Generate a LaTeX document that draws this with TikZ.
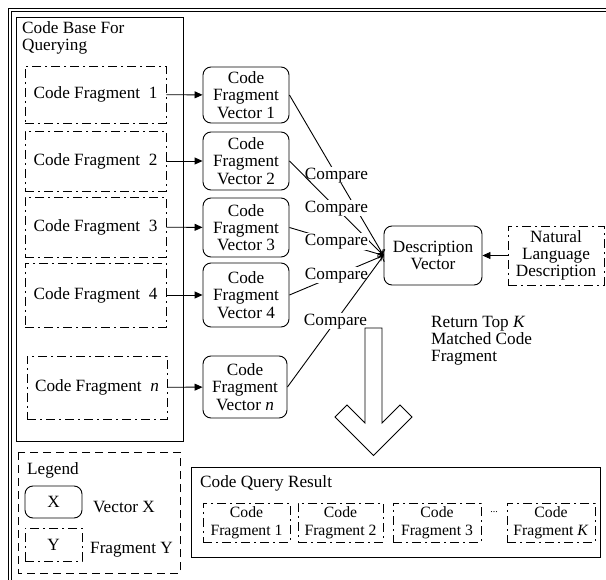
\documentclass[tikz,border=0pt]{standalone}
\usepackage{fontspec}
\setmainfont{Liberation Serif}
\usetikzlibrary{arrows.meta}
\begin{document}
\begin{tikzpicture}[x=1pt,y=-1pt,
  every node/.style={font=\fontsize{17.2}{17.2}\selectfont, inner sep=1pt},
  lw/.style={line width=0.9pt},
  fragbox/.style={draw, line width=0.9pt, dash pattern=on 9pt off 4pt on 2pt off 4pt, align=center},
  vecbox/.style={draw, line width=0.9pt, rounded corners=8pt, align=center},
  resbox/.style={fragbox, font=\fontsize{15.7}{18.5}\selectfont},
  feed/.style={line width=0.9pt, -{Triangle[length=8pt,width=7pt]}},
  cmp/.style={line width=0.9pt, -{To[length=5pt,width=9pt]}},
  cmplabel/.style={pos=0.5, fill=white, inner sep=0.5pt},
  plain/.style={inner sep=1pt}
]
\useasboundingbox (0,0) rectangle (606,580);
\fill[white] (0,0) rectangle (606,580);

% outer frame
\draw[double, double distance=1.6pt, line width=0.8pt] (10,10) rectangle (660,660);

% code base
\node[draw, lw, minimum width=167pt, minimum height=424pt] (cb) at (99.5,229) {};
\node[plain, anchor=north west, align=left] (cbt) at (21,20.2) {Code Base For\\Querying};

\node[fragbox, minimum width=141pt, minimum height=57pt] (f1) at (95.5,94.5) {Code Fragment\ \ 1};
\node[fragbox, minimum width=141pt, minimum height=60pt] (f2) at (95.5,161) {Code Fragment\ \ 2};
\node[fragbox, minimum width=141pt, minimum height=60pt] (f3) at (95.5,227) {Code Fragment\ \ 3};
\node[fragbox, minimum width=141pt, minimum height=64pt] (f4) at (95.5,295) {Code Fragment\ \ 4};
\node[fragbox, minimum width=140pt, minimum height=63pt] (fn) at (97,387.5) {Code Fragment\ \ \textit{n}};

% vectors
\node[vecbox, minimum width=86pt, minimum height=56pt] (v1) at (246,95) {Code\\Fragment\\Vector 1};
\node[vecbox, minimum width=86pt, minimum height=58pt] (v2) at (246,161) {Code\\Fragment\\Vector 2};
\node[vecbox, minimum width=86pt, minimum height=59pt] (v3) at (246,227.5) {Code\\Fragment\\Vector 3};
\node[vecbox, minimum width=86pt, minimum height=64pt] (v4) at (246,295) {Code\\Fragment\\Vector 4};
\node[vecbox, minimum width=84pt, minimum height=62pt] (vn) at (245,387) {Code\\Fragment\\Vector \textit{n}};

\draw[feed] (f1) -- (v1);
\draw[feed] (f2) -- (v2);
\draw[feed] (f3) -- (v3);
\draw[feed] (f4) -- (v4);
\draw[feed] (fn) -- (vn);

% description
\node[vecbox, minimum width=98pt, minimum height=59pt] (dv) at (433,255.5) {Description\\Vector};
\node[fragbox, minimum width=96pt, minimum height=59pt] (nld) at (556,255.5) {Natural\\Language\\Description};
\draw[feed] (nld) -- (dv);

\draw[cmp] (v1.east) -- node[cmplabel] {Compare} (dv.west);
\draw[cmp] (v2.east) -- node[cmplabel] {Compare} (dv.west);
\draw[cmp] (v3.east) -- node[cmplabel] {Compare} (dv.west);
\draw[cmp] (v4.east) -- node[cmplabel] {Compare} (dv.west);
\draw[cmp] (vn.east) -- node[cmplabel] {Compare} (dv.west);

% return text
\node[plain, anchor=north west, align=left] (ret) at (430,315) {Return Top \textit{K}\\Matched Code\\Fragment};

% big hollow arrow
\draw[lw, line join=miter] (365,328) -- (382,328) -- (382,423) -- (400,405) -- (412,417)
  -- (373.5,455.5) -- (335,417) -- (347,405) -- (365,423) -- cycle;

% legend
\draw[lw, dash pattern=on 8pt off 5pt] (18,452) rectangle (180,573);
\node[plain, anchor=base west] (lg) at (26,475) {Legend};
\node[vecbox, minimum width=57pt, minimum height=32pt] (lx) at (53.5,502) {X};
\node[plain, anchor=base west] (lxt) at (92,512) {Vector X};
\node[fragbox, minimum width=57pt, minimum height=33pt] (ly) at (53.5,544.5) {Y};
\node[plain, anchor=base west] (lyt) at (89,553) {Fragment Y};

% result
\node[draw, lw, minimum width=409pt, minimum height=90pt] (res) at (395.5,512) {};
\node[plain, anchor=base west] (rest) at (199,487) {Code Query Result};
\node[resbox, minimum width=87pt, minimum height=39pt] (r1) at (246.5,522.5) {Code\\Fragment 1};
\node[resbox, minimum width=85pt, minimum height=39pt] (r2) at (340.5,522.5) {Code\\Fragment 2};
\node[resbox, minimum width=88pt, minimum height=39pt] (r3) at (437,522.5) {Code\\Fragment 3};
\node[plain, font=\fontsize{10}{12}\selectfont] (rdots) at (494,512) {...};
\node[resbox, minimum width=88pt, minimum height=39pt] (rk) at (551,522.5) {Code\\Fragment \textit{K}};
\end{tikzpicture}
\end{document}
